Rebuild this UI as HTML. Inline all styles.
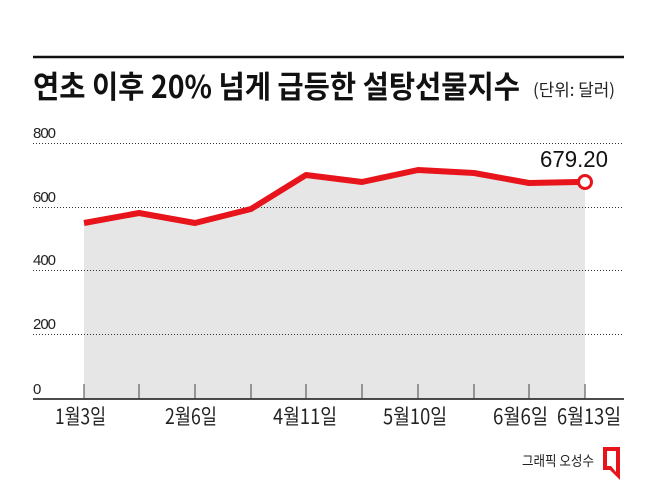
<!DOCTYPE html>
<html><head><meta charset="utf-8"><style>
body{margin:0;background:#fff;}
svg{display:block;font-family:"Liberation Sans","Noto Sans CJK KR",sans-serif;}
</style></head><body>
<svg width="658" height="485" viewBox="0 0 658 485">
<rect width="658" height="485" fill="#fff"/>
<line x1="33" y1="57" x2="624" y2="57" stroke="#111" stroke-width="2.5"/>
<text x="33" y="98" font-size="31" font-weight="bold" fill="#111" textLength="487" lengthAdjust="spacingAndGlyphs" font-family="Noto Sans CJK KR,sans-serif">연초 이후 20% 넘게 급등한 설탕선물지수</text>
<text x="533" y="96" font-size="17" fill="#222" textLength="82" lengthAdjust="spacingAndGlyphs" font-family="Noto Sans CJK KR,sans-serif">(단위: 달러)</text>
<polygon points="84,223 139,213 195,223 251,209 306,175 362,182 418,170 474,173 529,183 585,182 585,399 84,399" fill="#e6e6e6"/>
<g stroke="#333" stroke-width="1" stroke-dasharray="1,2">
<line x1="33" y1="143.5" x2="624" y2="143.5"/>
<line x1="33" y1="207.5" x2="624" y2="207.5"/>
<line x1="33" y1="270.5" x2="624" y2="270.5"/>
<line x1="33" y1="334.5" x2="624" y2="334.5"/>
</g>
<g font-size="15" fill="#222" letter-spacing="-1">
<text x="33" y="138">800</text>
<text x="33" y="202">600</text>
<text x="33" y="265">400</text>
<text x="33" y="329">200</text>
<text x="33" y="394">0</text>
</g>
<line x1="33" y1="399" x2="624" y2="399" stroke="#111" stroke-width="1.5"/>
<g stroke="#444" stroke-width="1">
<line x1="84" y1="384" x2="84" y2="399"/><line x1="139" y1="384" x2="139" y2="399"/>
<line x1="195" y1="384" x2="195" y2="399"/><line x1="251" y1="384" x2="251" y2="399"/>
<line x1="306" y1="384" x2="306" y2="399"/><line x1="362" y1="384" x2="362" y2="399"/>
<line x1="418" y1="384" x2="418" y2="399"/><line x1="474" y1="384" x2="474" y2="399"/>
<line x1="529" y1="384" x2="529" y2="399"/><line x1="585" y1="384" x2="585" y2="399"/>
</g>
<polyline points="84,223 139,213 195,223 251,209 306,175 362,182 418,170 474,173 529,183 578,182" fill="none" stroke="#e8141b" stroke-width="6" stroke-linejoin="round"/>
<circle cx="585" cy="182" r="6.5" fill="#fff" stroke="#e8141b" stroke-width="3"/>
<text x="540" y="167" font-size="23" fill="#111" textLength="68" lengthAdjust="spacingAndGlyphs">679.20</text>
<g font-size="21" fill="#222" font-family="Noto Sans CJK KR,sans-serif">
<text x="55" y="424" textLength="51" lengthAdjust="spacingAndGlyphs">1월3일</text>
<text x="165" y="424" textLength="52" lengthAdjust="spacingAndGlyphs">2월6일</text>
<text x="273" y="424" textLength="64" lengthAdjust="spacingAndGlyphs">4월11일</text>
<text x="383" y="424" textLength="64" lengthAdjust="spacingAndGlyphs">5월10일</text>
<text x="493" y="424" textLength="55" lengthAdjust="spacingAndGlyphs">6월6일</text>
<text x="557" y="424" textLength="64" lengthAdjust="spacingAndGlyphs">6월13일</text>
</g>
<text x="522" y="466" font-size="14" fill="#222" textLength="72" lengthAdjust="spacingAndGlyphs" font-family="Noto Sans CJK KR,sans-serif">그래픽 오성수</text>
<path d="M603,447 L620,447 L620,480 L610,470 L603,470 Z" fill="#e8141b"/>
<path d="M607,451 L616,451 L616,472 L611,466 L607,466 Z" fill="#fff"/>
</svg>
</body></html>
